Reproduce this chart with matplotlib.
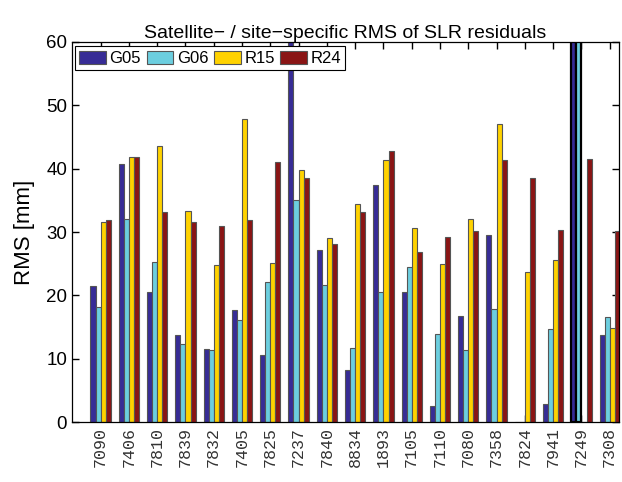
import matplotlib.pyplot as plt
import numpy as np

# station codes on the x axis
stations = ['7090', '7406', '7810', '7839', '7832', '7405', '7825', '7237', '7840', '8834',
            '1893', '7105', '7110', '7080', '7358', '7824', '7941', '7249', '7308']

# RMS per satellite [mm] (values above 60 run off the top)
g05 = [21.5, 40.7, 20.6, 13.8, 11.5, 17.7, 10.6, 75.0, 27.1, 8.3,
       37.4, 20.5, 2.6, 16.7, 29.6, 0.0, 2.9, 95.0, 13.8]
g06 = [18.2, 32.0, 25.3, 12.4, 11.4, 16.1, 22.2, 35.0, 21.6, 11.7,
       20.6, 24.5, 13.9, 11.4, 17.9, 0.0, 14.7, 90.0, 16.6]
r15 = [31.6, 41.8, 43.6, 33.3, 24.8, 47.9, 25.2, 39.8, 29.1, 34.4,
       41.4, 30.7, 25.0, 32.1, 47.1, 23.7, 25.6, 0.0, 14.9]
r24 = [31.9, 41.8, 33.2, 31.6, 30.9, 31.9, 41.0, 38.6, 28.1, 33.1,
       42.8, 26.8, 29.3, 30.1, 41.4, 38.6, 30.3, 41.6, 30.2]

series = [('G05', g05, '#372c96'),
          ('G06', g06, '#6ccedf'),
          ('R15', r15, '#ffd200'),
          ('R24', r24, '#8a1515')]

plt.rcParams['font.family'] = ['Liberation Sans', 'DejaVu Sans']

fig = plt.figure(figsize=(6.22, 4.82), dpi=100)
ax = fig.add_axes([0.1158, 0.124, 0.879, 0.789])

x = np.arange(len(stations))
w = 0.18
bars_all = []
for i, (name, vals, col) in enumerate(series):
    b = ax.bar(x + (i - 1.5) * w, vals, w, color=col, edgecolor='#555555',
               linewidth=0.8, label=name, zorder=2)
    bars_all.append(b)

# the two off-scale bars at 7249 have dark outlines
k = stations.index('7249')
for b in bars_all[:2]:
    b[k].set_edgecolor('black')
    b[k].set_linewidth(1.6)

ax.set_ylim(0, 60)
ax.set_xlim(-1.01, 18.32)
ax.set_yticks(np.arange(0, 61, 10))
ax.set_xticks(x)
ax.set_xticklabels(stations, rotation=90, family='Liberation Mono', fontsize=12, color='#333333')
ax.tick_params(axis='y', labelsize=13.5, direction='in', length=5, right=True, width=1)
ax.tick_params(axis='x', direction='in', length=5, top=True, width=1)
for s in ax.spines.values():
    s.set_linewidth(0.9)

ax.set_ylabel('RMS [mm]', fontsize=16, labelpad=8)
ax.set_title('Satellite\u2212 / site\u2212specific RMS of SLR residuals', fontsize=14, pad=3)

leg = ax.legend(loc='upper left', ncol=4, bbox_to_anchor=(0.006, 0.988), fontsize=12,
                frameon=True, fancybox=False, edgecolor='black', framealpha=1,
                handlelength=1.6, handleheight=0.9, handletextpad=0.2, columnspacing=0.35,
                borderpad=0.25, borderaxespad=0)
leg.get_frame().set_linewidth(0.8)

fig.savefig('out.png', dpi=100)
